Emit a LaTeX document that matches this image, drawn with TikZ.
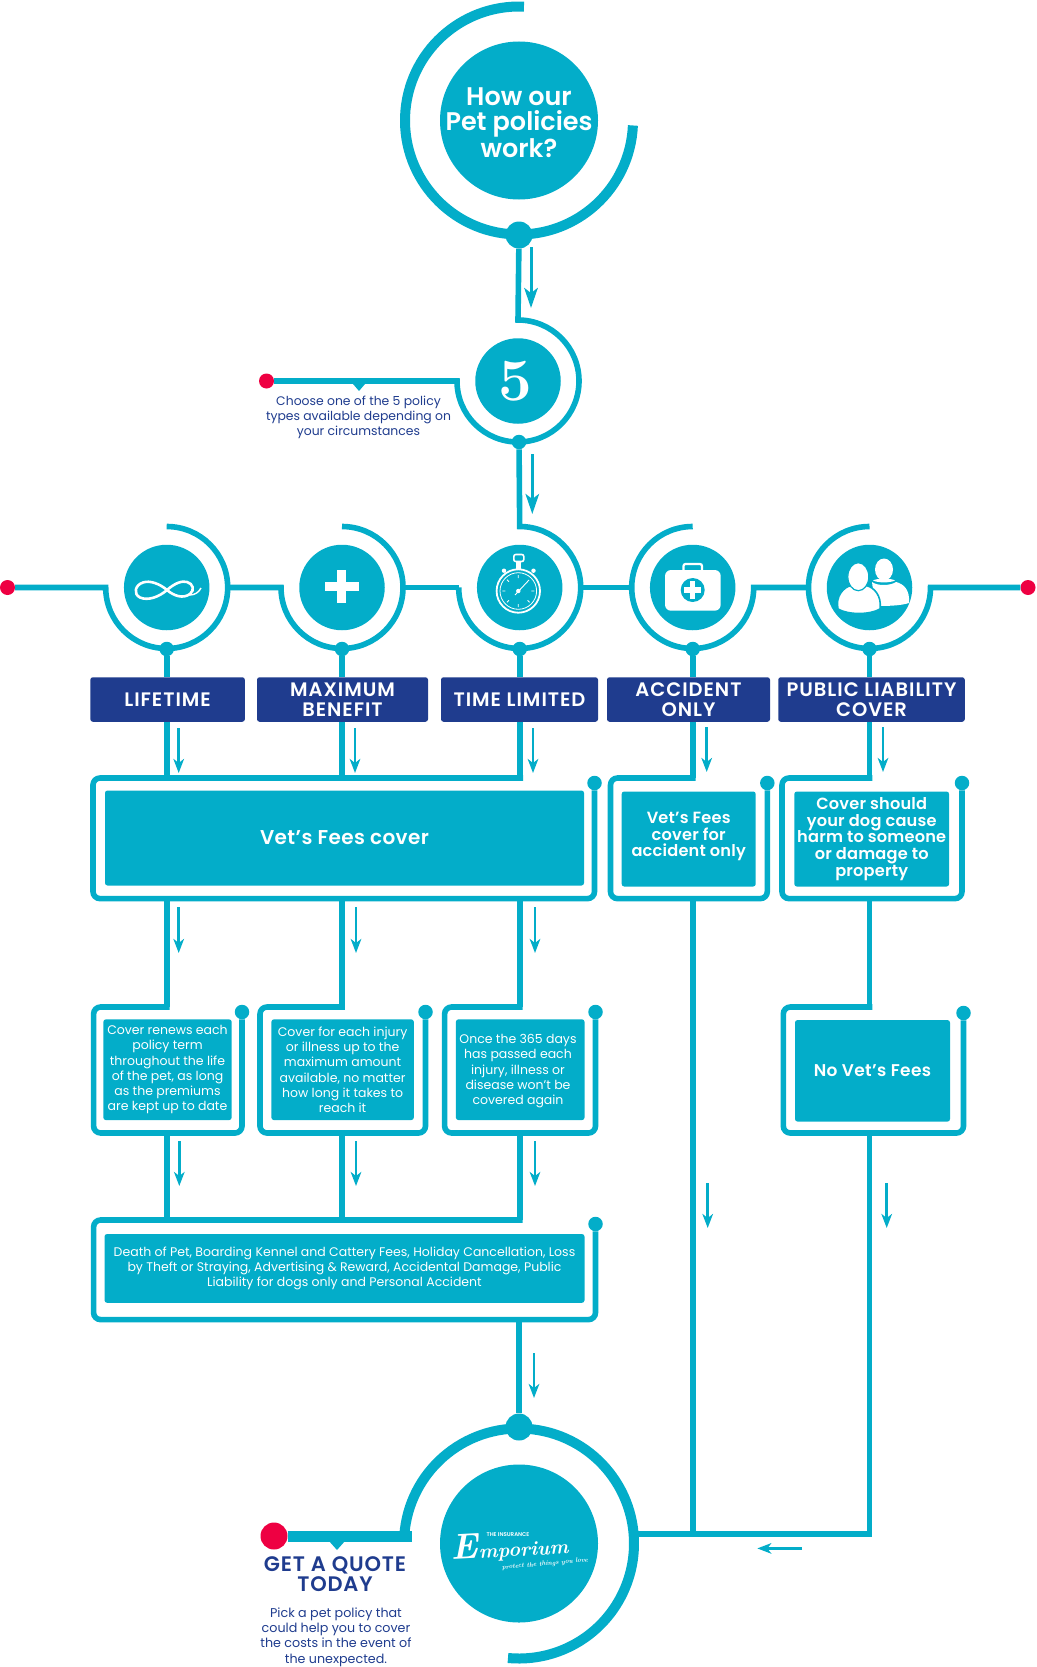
\documentclass[tikz,border=0pt]{standalone}
\usepackage{fontspec}
\setsansfont{Poppins}[BoldFont={Poppins SemiBold}]
\usetikzlibrary{arrows.meta}
\definecolor{petteal}{HTML}{03ADC9}
\definecolor{petnavy}{HTML}{1F3C8E}
\definecolor{petred}{HTML}{EE0042}
\tikzset{
	disc/.style={circle,fill=petteal,inner sep=0,minimum size=85.5pt,text=white,align=center},
	dot/.style={circle,fill=petteal,inner sep=0,minimum size=14.5pt},
	bigdot/.style={circle,fill=petteal,inner sep=0,minimum size=27pt},
	redmark/.style={circle,fill=petred,inner sep=0,minimum size=15pt},
	wire/.style={draw=petteal,line width=5.6pt},
	heavy/.style={draw=petteal,line width=10pt},
	panel/.style={wire,rounded corners=7pt},
	flow/.style={draw=petteal,line width=2.6pt,-{Stealth[length=14pt,width=10.5pt,inset=4pt]}},
	lab/.style={fill=petnavy,rounded corners=2.5pt,inner sep=0,text=white,align=center,font=\sffamily\bfseries\fontsize{19.5}{19.4}\selectfont\addfontfeature{LetterSpace=5}},
	tealbox/.style={fill=petteal,rounded corners=2.5pt,inner sep=0,text=white,align=center},
	boldtxt/.style={font=\sffamily\bfseries\fontsize{16.2}{16.8}\selectfont\addfontfeature{LetterSpace=1.2}},
	smalltxt/.style={font=\sffamily\fontsize{12.5}{15.3}\selectfont},
	navytxt/.style={text=petnavy,align=center,inner sep=0,font=\sffamily\fontsize{12.4}{15.3}\selectfont},
}
\begin{document}
\begin{tikzpicture}[x=1pt,y=-1pt]
	\useasboundingbox (0,0) rectangle (1036,1667);
	% discs
	\node[disc,minimum size=158pt] (topDisc) at (519,120.5) {};
	\node[text=white,align=center,inner sep=0,font=\sffamily\bfseries\fontsize{25.5}{25}\selectfont] (topTxt) at (519,123) {How our\\Pet policies\\work?};
	\node[disc,font=\rmfamily\bfseries\fontsize{60}{60}\selectfont] (fiveDisc) at (518,381) {\hspace*{-6pt}5};
	\node[disc] (lifeDisc) at (166.7,587.5) {};
	\node[disc] (maxDisc) at (342,587.5) {};
	\node[disc] (timeDisc) at (519.7,587.5) {};
	\node[disc] (accDisc) at (692.7,587.5) {};
	\node[disc] (pubDisc) at (869.5,587.5) {};
	\node[disc,minimum size=158pt] (endDisc) at (519,1543.5) {};
	% dots
	\node[bigdot] (topDot) at (519,235) {};
	\node[dot] (fiveDot) at (519,442) {};
	\node[dot] (lifeDot) at (166.7,649) {};
	\node[dot] (maxDot) at (342,649) {};
	\node[dot] (timeDot) at (519.7,649) {};
	\node[dot] (accDot) at (692.7,649) {};
	\node[dot] (pubDot) at (869.5,649) {};
	\node[bigdot] (endDot) at (519,1427) {};
	\node[redmark] (redFive) at (266.5,381) {};
	\node[redmark] (redLeft) at (7.5,587.5) {};
	\node[redmark] (redRight) at (1028,587.5) {};
	\node[redmark,minimum size=27pt] (redQuote) at (274,1536) {};
	% label boxes
	\node[lab,minimum width=154.5pt,minimum height=44.5pt] (labLife) at (167.6,699.5) {LIFETIME};
	\node[lab,minimum width=171pt,minimum height=44.5pt] (labMax) at (342.5,699.5) {MAXIMUM\\BENEFIT};
	\node[lab,minimum width=157pt,minimum height=44.5pt] (labTime) at (519.5,699.5) {TIME LIMITED};
	\node[lab,minimum width=163pt,minimum height=44.5pt] (labAcc) at (688.5,699.5) {ACCIDENT\\ONLY};
	\node[lab,minimum width=186.5pt,minimum height=44.5pt] (labPub) at (871.5,699.5) {PUBLIC LIABILITY\\COVER};
	% filled boxes
	\node[tealbox,font=\sffamily\bfseries\fontsize{20}{20}\selectfont\addfontfeature{LetterSpace=2},minimum width=479pt,minimum height=95pt] (feesBox) at (344.5,838) {Vet’s Fees cover};
	\node[tealbox,boldtxt,minimum width=134pt,minimum height=95pt] (accBox) at (688.7,839) {Vet’s Fees\\cover for\\accident only\rule[-9pt]{0pt}{9pt}};
	\node[tealbox,boldtxt,minimum width=154.7pt,minimum height=95pt] (pubBox) at (871.7,839) {Cover should\\your dog cause\\harm to someone\\or damage to\\property};
	\node[tealbox,smalltxt,minimum width=128.3pt,minimum height=100.7pt] (renewBox) at (167.5,1069.7) {Cover renews each\\policy term\\throughout the life\\of the pet, as long\\as the premiums\\are kept up to date};
	\node[tealbox,smalltxt,minimum width=142.4pt,minimum height=100.7pt] (limitBox) at (342.6,1069.7) {Cover for each injury\\or illness up to the\\maximum amount\\available, no matter\\how long it takes to\\reach it};
	\node[tealbox,minimum width=128.6pt,minimum height=100.7pt] (onceBox) at (520.2,1069.7) {};
	\node[text=white,align=center,inner sep=0,smalltxt] (onceTxt) at (518,1071.3) {Once the 365 days\\has passed each\\injury, illness or\\disease won’t be\\covered again};
	\node[tealbox,font=\sffamily\bfseries\fontsize{17}{17}\selectfont\addfontfeature{LetterSpace=2},minimum width=155pt,minimum height=101.5pt] (noBox) at (872.5,1070.8) {No Vet’s Fees};
	\node[tealbox,smalltxt,minimum width=480pt,minimum height=68.7pt] (deathBox) at (344.5,1268.4) {Death of Pet, Boarding Kennel and Cattery Fees, Holiday Cancellation, Loss\\by Theft or Straying, Advertising \& Reward, Accidental Damage, Public\\Liability for dogs only and Personal Accident};
	% panel corners
	\node[dot] (feesDot) at (594.5,783) {};
	\node[dot] (accPDot) at (767.3,783) {};
	\node[dot] (pubPDot) at (962,783) {};
	\node[dot] (renewDot) at (242,1012) {};
	\node[dot] (limitDot) at (425.5,1012) {};
	\node[dot] (onceDot) at (595.5,1012) {};
	\node[dot] (noDot) at (963.5,1013) {};
	\node[dot] (deathDot) at (595.5,1224) {};
	\coordinate (feesTop) at (523,778);
	\coordinate (feesSW) at (93,898.6);
	\coordinate (accTop) at (695.5,778);
	\coordinate (accSW) at (610.5,898.6);
	\coordinate (pubTop) at (872.3,778);
	\coordinate (pubSW) at (782,898.6);
	\coordinate (renewTop) at (169.5,1007);
	\coordinate (renewSW) at (93.6,1133);
	\coordinate (limitTop) at (344.8,1007);
	\coordinate (limitSW) at (260,1133);
	\coordinate (onceTop) at (522.5,1007);
	\coordinate (onceSW) at (444.6,1133);
	\coordinate (noTop) at (872.3,1007);
	\coordinate (noSW) at (783.3,1133);
	\coordinate (deathTop) at (522.5,1220);
	\coordinate (deathSW) at (93.6,1319.6);
	% rings
	\coordinate (fiveTop) at (518,320);
	\coordinate (lifeW) at (105.7,587.5);
	\coordinate (lifeE) at (227.7,587.5);
	\coordinate (maxW) at (281,587.5);
	\coordinate (maxE) at (403,587.5);
	\coordinate (timeW) at (458.7,587.5);
	\coordinate (timeTop) at (519.7,526.5);
	\coordinate (timeE) at (580.7,587.5);
	\coordinate (accW) at (631.7,587.5);
	\coordinate (accRing) at (692.7,526.5);
	\coordinate (pubW) at (808.5,587.5);
	\coordinate (pubRing) at (869.5,526.5);
	\coordinate (endLine) at (636,1533.7);
	\coordinate (quoteEnd) at (412,1536);
	\draw[heavy] (topDisc.center) ++(87.5:114pt) arc[start angle=87.5,end angle=357.5,radius=114pt];
	\draw[wire] (topDot) -- (fiveTop) arc[start angle=90,end angle=-180,radius=61pt] -- (redFive);
	\draw[wire] (redLeft) -- (lifeW) arc[start angle=180,end angle=450,radius=61pt];
	\draw[wire] (lifeE) -- (maxW) arc[start angle=180,end angle=450,radius=61pt];
	\draw[wire] (maxE) -- (timeW);
	\draw[wire] (fiveDot) -- (timeTop) arc[start angle=90,end angle=-180,radius=61pt];
	\draw[wire] (timeE) -- (accW);
	\draw[wire] (accRing) arc[start angle=90,end angle=360,radius=61pt] -- (pubW);
	\draw[wire] (pubRing) arc[start angle=90,end angle=360,radius=61pt] -- (redRight);
	\draw[heavy] (endDisc.center) ++(176:115pt) arc[start angle=176,end angle=-95.5,radius=115pt];
	\draw[draw=petteal,line width=11pt] (redQuote) -- (quoteEnd);
	% pointers
	\fill[petteal] (353,384) -- (365,384) -- (359,391) -- cycle;
	\fill[petteal] (329,1541) -- (345,1541) -- (337,1550) -- cycle;
	% panels
	\draw[panel] (feesTop) -| (feesSW) -| (feesDot);
	\draw[panel] (accTop) -| (accSW) -| (accPDot);
	\draw[panel] (pubTop) -| (pubSW) -| (pubPDot);
	\draw[panel] (renewTop) -| (renewSW) -| (renewDot);
	\draw[panel] (limitTop) -| (limitSW) -| (limitDot);
	\draw[panel] (onceTop) -| (onceSW) -| (onceDot);
	\draw[panel] (noTop) -| (noSW) -| (noDot);
	\draw[panel] (deathTop) -| (deathSW) -| (deathDot);
	% links
	\draw[wire] (lifeDot) -- (lifeDot |- labLife.north);
	\draw[wire] (maxDot) -- (maxDot |- labMax.north);
	\draw[wire] (timeDot) -- (timeDot |- labTime.north);
	\draw[wire] (accDot) -- (accDot |- labAcc.north);
	\draw[wire] (pubDot) -- (pubDot |- labPub.north);
	\draw[wire] (lifeDot |- labLife.south) -- (lifeDot |- feesTop);
	\draw[wire] (maxDot |- labMax.south) -- (maxDot |- feesTop);
	\draw[wire] (timeDot |- labTime.south) -- (timeDot |- feesTop);
	\draw[wire] (accDot |- labAcc.south) -- (accDot |- accTop);
	\draw[wire] (pubDot |- labPub.south) -- (pubDot |- pubTop);
	\draw[wire] (lifeDot |- feesSW) -- (lifeDot |- renewTop);
	\draw[wire] (maxDot |- feesSW) -- (maxDot |- limitTop);
	\draw[wire] (timeDot |- feesSW) -- (timeDot |- onceTop);
	\draw[wire] (pubDot |- pubSW) -- (pubDot |- noTop);
	\draw[wire] (lifeDot |- renewSW) -- (lifeDot |- deathTop);
	\draw[wire] (maxDot |- limitSW) -- (maxDot |- deathTop);
	\draw[wire] (timeDot |- onceSW) -- (timeDot |- deathTop);
	\draw[wire] (endDot |- deathSW) -- (endDot);
	\draw[wire] (accDot |- accSW) -- (accDot |- endLine);
	\draw[wire] (pubDot |- noSW) -- (pubDot |- endLine) -- (endLine);
	% flow arrows
	\coordinate (f1a) at (531,247); \coordinate (f1b) at (531,308);
	\draw[flow,line width=3pt,-{Stealth[length=20pt,width=13.5pt,inset=5pt]}] (f1a) -- (f1b);
	\coordinate (f2a) at (532.3,454); \coordinate (f2b) at (532.3,514);
	\draw[flow,line width=3pt,-{Stealth[length=20pt,width=13.5pt,inset=5pt]}] (f2a) -- (f2b);
	\coordinate (f3a) at (178.7,728); \coordinate (f3b) at (178.7,773);
	\draw[flow] (f3a) -- (f3b);
	\coordinate (f4a) at (355,728); \coordinate (f4b) at (355,773);
	\draw[flow] (f4a) -- (f4b);
	\coordinate (f5a) at (533,728); \coordinate (f5b) at (533,773);
	\draw[flow] (f5a) -- (f5b);
	\coordinate (f6a) at (706.7,727); \coordinate (f6b) at (706.7,772);
	\draw[flow] (f6a) -- (f6b);
	\coordinate (f7a) at (883,727); \coordinate (f7b) at (883,772);
	\draw[flow] (f7a) -- (f7b);
	\coordinate (f8a) at (178.7,907); \coordinate (f8b) at (178.7,953);
	\draw[flow] (f8a) -- (f8b);
	\coordinate (f9a) at (356,907); \coordinate (f9b) at (356,953);
	\draw[flow] (f9a) -- (f9b);
	\coordinate (f10a) at (535,907); \coordinate (f10b) at (535,953);
	\draw[flow] (f10a) -- (f10b);
	\coordinate (f11a) at (179.3,1141); \coordinate (f11b) at (179.3,1186);
	\draw[flow] (f11a) -- (f11b);
	\coordinate (f12a) at (356,1141); \coordinate (f12b) at (356,1186);
	\draw[flow] (f12a) -- (f12b);
	\coordinate (f13a) at (535,1141); \coordinate (f13b) at (535,1186);
	\draw[flow] (f13a) -- (f13b);
	\coordinate (f14a) at (534,1353); \coordinate (f14b) at (534,1398);
	\draw[flow] (f14a) -- (f14b);
	\coordinate (f15a) at (707.7,1183); \coordinate (f15b) at (707.7,1228);
	\draw[flow] (f15a) -- (f15b);
	\coordinate (f16a) at (886.7,1183); \coordinate (f16b) at (886.7,1228);
	\draw[flow] (f16a) -- (f16b);
	\coordinate (f17a) at (802,1548.4); \coordinate (f17b) at (757.3,1548.4);
	\draw[flow] (f17a) -- (f17b);
	% captions
	\node[navytxt] (chooseTxt) at (358.5,417.5) {Choose one of the 5 policy\\types available depending on\\your circumstances};
	\node[navytxt,font=\sffamily\bfseries\fontsize{21}{20}\selectfont\addfontfeature{LetterSpace=4}] (quoteTxt) at (335,1574) {GET A QUOTE\\TODAY};
	\node[navytxt,font=\sffamily\fontsize{12.7}{15.3}\selectfont] (pickTxt) at (336,1637) {Pick a pet policy that\\could help you to cover\\the costs in the event of\\the unexpected.};
	% infinity
	\draw[white,line width=2.6pt] (167,590) .. controls (175,583) and (182,580.5) .. (187,582) .. controls (193,583.5) and (195,590) .. (190,594) .. controls (183,599) and (174,596) .. (167,590) .. controls (160,584) and (150,580) .. (143,582.5) .. controls (135,585) and (133,594) .. (140,597.5) .. controls (148,601) and (159,597) .. (167,590);
	\draw[white,line width=1.4pt] (190,595) .. controls (195,595) and (199,592) .. (201,588);
	% plus
	\fill[white] (324.5,581.7) rectangle (358.6,591);
	\fill[white] (336.8,570) rectangle (346.3,603.3);
	% stopwatch
	\draw[white,line width=1.8pt,fill=petteal] (518.3,591) circle[radius=21.7pt];
	\draw[white,line width=0.8pt] (518.3,591) circle[radius=18.3pt];
	\draw[white,line width=1.6pt,rounded corners=2pt] (513.8,554.5) rectangle (523.8,561.5);
	\fill[white] (515.8,561) rectangle (520.8,569);
	\fill[white] (504,570.7) circle[radius=2.2pt];
	\fill[white] (533.5,570.7) circle[radius=2.2pt];
	\draw[white,line width=0.8pt] (518.3,575) -- (518.3,578) (518.3,604) -- (518.3,607) (502.3,591) -- (505.3,591) (531.3,591) -- (534.3,591) (507,579.7) -- (509,581.7) (527.6,600.3) -- (529.6,602.3) (507,602.3) -- (509,600.3);
	\draw[white,line width=0.9pt] (515,595) -- (529,580);
	\fill[white] (518.3,591) circle[radius=2.2pt];
	% first aid kit
	\draw[white,line width=2.2pt,rounded corners=2pt] (683.5,571) -- (683.5,564) -- (702,564) -- (702,571);
	\fill[white,rounded corners=6pt] (665,570) rectangle (720.7,610.7);
	\fill[petteal] (692.7,590) circle[radius=12pt];
	\fill[white] (684,587.3) rectangle (701.4,592.7);
	\fill[white] (690,581.3) rectangle (695.4,598.7);
	% people
	\fill[white] (884,569.5) ellipse[x radius=9pt,y radius=11pt];
	\fill[white] (873,580.5) .. controls (877,578) and (891,578) .. (895,580.5) .. controls (890,583) and (878,583) .. (873,580.5) -- cycle;
	\fill[white] (872,582) .. controls (877,586) and (890,586) .. (896,582) .. controls (904,584) and (910,590) .. (909,603) .. controls (900,606) and (885,606) .. (875,606) -- cycle;
	\draw[fill=white,draw=petteal,line width=1.6pt] (838,609) .. controls (835,596) and (844,587) .. (851,585.5) .. controls (855,590) and (862,590) .. (866,585.5) .. controls (874,587) and (882,596) .. (880,609) .. controls (870,615) and (848,615) .. (838,609) -- cycle;
	\draw[fill=white,draw=petteal,line width=1.2pt] (858.3,576.7) ellipse[x radius=10.5pt,y radius=14pt];
	% logo
	\node[text=white,inner sep=0,rotate=3,font=\rmfamily\bfseries\itshape\fontsize{20}{20}\selectfont] (logoName) at (510,1552) {\smash{\fontsize{36}{36}\selectfont E}mporium};
	\node[text=white,inner sep=0,font=\sffamily\bfseries\fontsize{5.5}{6}\selectfont] (logoTop) at (508,1535) {THE INSURANCE};
	\node[text=white,inner sep=0,rotate=5,font=\rmfamily\bfseries\itshape\fontsize{6.5}{7}\selectfont] (logoSub) at (545,1564) {protect the things you love};
\end{tikzpicture}
\end{document}
